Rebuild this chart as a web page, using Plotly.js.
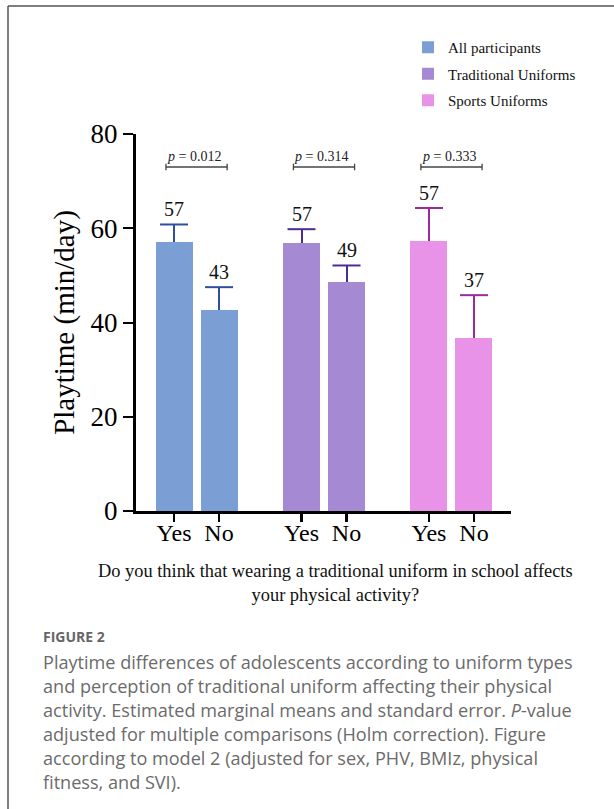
<!DOCTYPE html>
<html>
<head>
<meta charset="utf-8">
<script src="https://cdn.plot.ly/plotly-3.0.1.min.js"></script>
<style>
  html, body { margin: 0; padding: 0; background: #ffffff; }
  #chart { width: 614px; height: 809px; }
</style>
</head>
<body>
<div id="chart"></div>
<script>
// ---- data ----
const groups = ['All participants', 'Traditional Uniforms', 'Sports Uniforms'];
const answers = ['Yes', 'No'];
const meanAll = [57.0, 42.6];
const seAll = [3.8, 4.9];
const meanTraditional = [56.9, 48.6];
const seTraditional = [2.9, 3.5];
const meanSports = [57.2, 36.7];
const seSports = [7.1, 9.1];
const pValues = ['0.012', '0.314', '0.333'];
const yTicks = [0, 20, 40, 60, 80];
const xTitle = 'Do you think that wearing a traditional uniform in school affects<br>your physical activity?';
const yTitle = 'Playtime (min/day)';
const captionHead = 'FIGURE 2';
const captionLines = [
  'Playtime differences of adolescents according to uniform types',
  'and perception of traditional uniform affecting their physical',
  'activity. Estimated marginal means and standard error. <i>P</i>-value',
  'adjusted for multiple comparisons (Holm correction). Figure',
  'according to model 2 (adjusted for sex, PHV, BMIz, physical',
  'fitness, and SVI).'
];

// ---- style ----
const serif = '"Liberation Serif", "Times New Roman", serif';
const sans = '"Open Sans", "Noto Sans", sans-serif';
const barColors = ['#7b9fd4', '#a589d2', '#e893e8'];
const errColors = ['#2f4f9c', '#4b2c96', '#9c2a9c'];
const means = [meanAll, meanTraditional, meanSports];
const ses = [seAll, seTraditional, seSports];
const offsets = [-0.1765, 0.1765];

// plot area in pixels: x 136..511, y 134..511
const L = 136, R = 511, T = 134, B = 511;
const pxX = px => (px - L) / (R - L);
const pxY = py => (B - py) / (B - T);

const traces = [];
groups.forEach((g, gi) => {
  const xs = answers.map((a, ai) => gi + offsets[ai]);
  traces.push({
    type: 'bar',
    name: g,
    legendgroup: 'g' + gi,
    x: xs,
    y: means[gi],
    width: 0.29,
    marker: { color: barColors[gi], line: { width: 0 } },
    error_y: {
      type: 'data', symmetric: false,
      array: ses[gi], arrayminus: ses[gi].map(() => 0),
      color: errColors[gi], thickness: 2, width: 0
    },
    hoverinfo: 'skip'
  });
  // caps at the top of the (upper-only) error bars
  traces.push({
    type: 'scatter', mode: 'markers', showlegend: false, legendgroup: 'g' + gi,
    x: xs, y: means[gi].map((m, i) => m + ses[gi][i]),
    marker: { symbol: 'line-ew', size: 20, color: errColors[gi], line: { width: 2, color: errColors[gi] } },
    hoverinfo: 'skip', cliponaxis: false
  });
});

const tickvals = [], ticktext = [];
groups.forEach((g, gi) => answers.forEach((a, ai) => {
  tickvals.push(gi + offsets[ai]); ticktext.push(a);
}));

const annotations = [];
const shapes = [];
groups.forEach((g, gi) => {
  answers.forEach((a, ai) => {
    annotations.push({
      x: gi + offsets[ai], y: means[gi][ai] + ses[gi][ai], xref: 'x', yref: 'y',
      text: String(Math.round(means[gi][ai])), showarrow: false,
      yanchor: 'bottom', yshift: 2,
      font: { family: serif, size: 20, color: '#111' }
    });
  });
  // p-value bracket
  const yb = 73, half = 0.24;
  shapes.push({ type: 'line', xref: 'x', yref: 'y', x0: gi - half, x1: gi + half, y0: yb, y1: yb,
    line: { color: '#444', width: 1.3 } });
  [gi - half, gi + half].forEach(xe => shapes.push({ type: 'line', xref: 'x', yref: 'y',
    x0: xe, x1: xe, y0: yb - 0.7, y1: yb + 0.7, line: { color: '#444', width: 1.3 } }));
  annotations.push({
    x: gi - 0.02, y: yb, xref: 'x', yref: 'y', showarrow: false, yanchor: 'bottom', yshift: 1,
    text: '<i>p</i> = ' + pValues[gi],
    font: { family: serif, size: 14, color: '#222' }
  });
});

// x-axis title
annotations.push({
  xref: 'paper', yref: 'paper', x: pxX(335), y: pxY(583), xanchor: 'center', yanchor: 'middle',
  text: xTitle, showarrow: false, align: 'center',
  font: { family: serif, size: 18.4, color: '#111' }
});
// caption
annotations.push({
  xref: 'paper', yref: 'paper', x: pxX(41), y: pxY(636), xanchor: 'left', yanchor: 'middle',
  text: '<b>' + captionHead + '</b>', showarrow: false, font: { family: sans, size: 14, color: '#666' }
});
captionLines.forEach((line, i) => annotations.push({
  xref: 'paper', yref: 'paper', x: pxX(41), y: pxY(662 + 24 * i), xanchor: 'left', yanchor: 'middle',
  text: line, showarrow: false, align: 'left', font: { family: sans, size: 18.1, color: '#6b6b6b' }
}));

// frame lines
shapes.push({ type: 'line', xref: 'paper', yref: 'paper', x0: pxX(8), x1: pxX(616), y0: pxY(6), y1: pxY(6),
  line: { color: '#555', width: 1.5 } });
shapes.push({ type: 'line', xref: 'paper', yref: 'paper', x0: pxX(8), x1: pxX(8), y0: pxY(6), y1: pxY(812),
  line: { color: '#555', width: 1.5 } });

const layout = {
  width: 614, height: 809,
  margin: { l: L, r: 614 - R, t: T, b: 809 - B, pad: 0 },
  paper_bgcolor: '#ffffff', plot_bgcolor: '#ffffff',
  showlegend: true,
  legend: {
    x: pxX(408), y: pxY(31), xanchor: 'left', yanchor: 'top',
    font: { family: serif, size: 15, color: '#111' },
    tracegroupgap: 4, bgcolor: 'rgba(0,0,0,0)'
  },
  xaxis: {
    range: [-0.475, 2.467], tickvals: tickvals, ticktext: ticktext,
    showline: true, linecolor: '#000', linewidth: 3, ticks: 'outside', ticklen: 8, tickwidth: 2.5,
    tickcolor: '#000', showgrid: false, zeroline: false, ticklabelstandoff: -10,
    tickfont: { family: serif, size: 24, color: '#000' }, fixedrange: true
  },
  yaxis: {
    range: [0, 80], tickvals: yTicks,
    showline: true, linecolor: '#000', linewidth: 3, ticks: 'outside', ticklen: 10, tickwidth: 2,
    tickcolor: '#000', showgrid: false, zeroline: false,
    tickfont: { family: serif, size: 27, color: '#000' },
    title: { text: yTitle, font: { family: serif, size: 29, color: '#000' }, standoff: 8 },
    fixedrange: true
  },
  bargap: 0, annotations: annotations, shapes: shapes
};

Plotly.newPlot('chart', traces, layout, { displayModeBar: false, staticPlot: true });
</script>
</body>
</html>
